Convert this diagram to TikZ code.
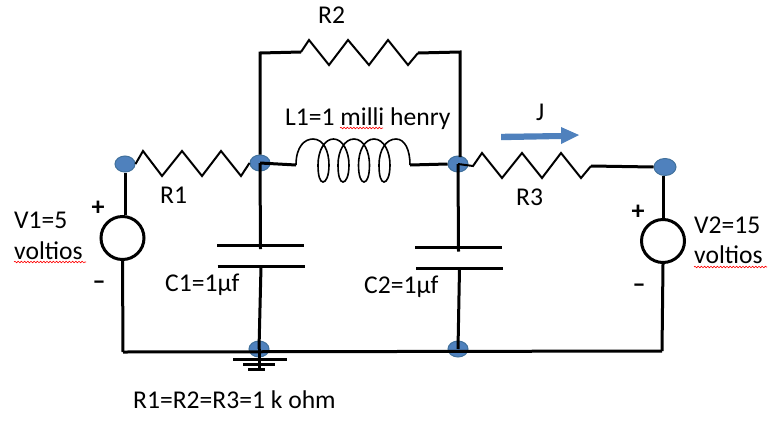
\documentclass[tikz,border=0pt]{standalone}
\usepackage{fontspec}
\setmainfont{Carlito}
\usetikzlibrary{shapes.geometric,decorations.pathmorphing}
\definecolor{dotblue}{HTML}{4F81BD}
\definecolor{dotedge}{HTML}{41719C}
\tikzset{
  wire/.style={draw=black,line width=3pt,line cap=butt},
  thinwire/.style={draw=black,line width=2pt,line join=miter},
  coil/.style={draw=black,line width=1.6pt},
  junction/.style={ellipse,fill=dotblue,draw=dotedge,line width=1pt,minimum width=20pt,minimum height=16pt,inner sep=0pt},
  source/.style={circle,draw=black,line width=3pt,fill=white,minimum size=43pt,inner sep=0pt},
  lbl/.style={anchor=base west,inner sep=0pt,font=\fontsize{25.6}{30}\selectfont},
  sign/.style={anchor=center,inner sep=0pt,font=\fontsize{26}{28}\selectfont\bfseries},
  squiggle/.style={draw=red,line width=0.6pt,decorate,decoration={snake,segment length=3.2pt,amplitude=0.8pt}}
}
\begin{document}
\begin{tikzpicture}[x=1pt,y=-1pt]
\useasboundingbox (0,0) rectangle (781,421);
\fill[white] (0,0) rectangle (781,421);
% junctions
\node[junction] (n1) at (125,164) {};
\node[junction] (n2) at (260,163) {};
\node[junction] (n3) at (458,164) {};
\node[junction,minimum width=22pt,minimum height=17pt] (n4) at (665,167) {};
\node[junction] (n5) at (259,349) {};
\node[junction] (n6) at (458,349) {};
% sources
\node[source] (v1) at (122.5,238) {};
\node[source] (v2) at (663,241) {};
% helper coordinates
\coordinate (r2l) at (260,53);
\coordinate (r2a) at (301,52);
\coordinate (r2b) at (418,53);
\coordinate (r2r) at (460,52);
\coordinate (c1a) at (260.5,245);
\coordinate (c1b) at (261,266.5);
\coordinate (c2a) at (458.5,247.5);
\coordinate (c2b) at (459.5,268.5);
\coordinate (lbot) at (123,352);
\coordinate (rbot) at (662,351);
\coordinate (la) at (296,165);
\coordinate (lb) at (410,165);
\coordinate (r3a) at (473,166);
\coordinate (r3b) at (591,166);
% source leads
\draw[wire] (n1.south) -- (n1.south |- v1.north);
\draw[wire] (v1.south) -- (lbot);
\draw[wire] (n4.south) ++(-2,0) -- (v2.north);
\draw[wire] (v2.south) -- (rbot);
% bottom rail
\draw[wire] (lbot) -- (rbot);
% R1
\draw[thinwire] (n1.east) -- (143,151) -- (162,176) -- (182,151) -- (202,176) -- (221,151) -- (241,176) -- (n2.west);
% R2
\draw[wire] (n2.north) -- (r2l) -- (r2a);
\draw[thinwire] (r2a) -- (309,40) -- (329,65) -- (348,40) -- (369,65) -- (388,40) -- (408,65) -- (r2b);
\draw[wire] (r2b) -- (r2r) -- (460,157);
% L1
\draw[wire] (n2.center) -- (la);
\draw[wire] (lb) -- (n3.west);
\draw[coil] (la) .. controls (296,146) and (305,139) .. (313,139)
  .. controls (324,139) and (329,152) .. (329,165)
  .. controls (329,176) and (326,182) .. (323,182)
  .. controls (320,182) and (318,176) .. (318,165)
  .. controls (318,150) and (325,139) .. (333.5,139)
  .. controls (343,139) and (349,152) .. (349,165)
  .. controls (349,176) and (346,182) .. (343,182)
  .. controls (340,182) and (338,176) .. (338,165)
  .. controls (338,150) and (345,139) .. (354,139)
  .. controls (364,139) and (369.5,152) .. (369.5,165)
  .. controls (369.5,176) and (367,182) .. (364,182)
  .. controls (361,182) and (358.5,176) .. (358.5,165)
  .. controls (358.5,150) and (365,139) .. (374,139)
  .. controls (384,139) and (390,152) .. (390,165)
  .. controls (390,176) and (387,182) .. (384,182)
  .. controls (381,182) and (379,176) .. (379,165)
  .. controls (379,150) and (386,139) .. (396,139)
  .. controls (405,139) and (410,150) .. (lb);
% R3
\draw[thinwire] (n3.center) -- (r3a) -- (482,153) -- (502,178) -- (522,153) -- (542,178) -- (561,153) -- (581,178) -- (r3b);
\draw[wire] (r3b) -- (n4.west);
% C1
\draw[wire] (n2.center) -- ([yshift=-4pt]c1a);
\draw[wire] ([xshift=-43.5pt]c1a) -- ([xshift=43.5pt]c1a);
\draw[wire] ([xshift=-43.5pt]c1b) -- ([xshift=43.5pt]c1b);
\draw[wire] (c1b) -- (n5.center);
% C2
\draw[wire] (n3.center) -- ([yshift=-4pt]c2a);
\draw[wire] ([xshift=-43.5pt]c2a) -- ([xshift=43.5pt]c2a);
\draw[wire] ([xshift=-43.5pt]c2b) -- ([xshift=43.5pt]c2b);
\draw[wire] (c2b) -- (n6.center);
% ground
\coordinate (g1) at (260,359);
\coordinate (g2) at (259,364);
\coordinate (g3) at (256.5,369);
\draw[wire] (n5.center) -- (259,369);
\draw[wire] ([xshift=-27pt]g1) -- ([xshift=27pt]g1);
\draw[wire] ([xshift=-16pt]g2) -- ([xshift=16pt]g2);
\draw[wire] ([xshift=-8.5pt]g3) -- ([xshift=8.5pt]g3);
% current arrow
\fill[dotblue] (501,133.8) -- (561,133) -- (561,127) -- (579,135) -- (561,144) -- (561,139) -- (501,140.2) -- cycle;
% labels
\node[lbl] (tr2) at (318,23) {R2};
\node[lbl] (tr1) at (160,203) {R1};
\node[lbl] (tr3) at (516,205) {R3};
\node[lbl] (tj) at (536,120) {J};
\node[lbl] (tl1) at (285,125) {L1=1 milli henry};
\node[lbl] (tv1a) at (14,228) {V1=5};
\node[lbl] (tv1b) at (14,259) {voltios};
\node[lbl] (tv2a) at (694,233) {V2=15};
\node[lbl] (tv2b) at (694,263) {voltios};
\node[lbl] (tc1) at (165,291) {C1=1µf};
\node[lbl] (tc2) at (364,293) {C2=1µf};
\node[lbl] (tall) at (133,408) {R1=R2=R3=1 k ohm};
\node[sign] (pv1) at (98,208) {+};
\node[sign] (mv1) at (99,285) {–};
\node[sign] (pv2) at (638,212) {+};
\node[sign] (mv2) at (639,288) {–};
% spell-check squiggles
\path[squiggle] (340,128) -- (383,128);
\path[squiggle] (14,262) -- (86,262);
\path[squiggle] (694,267) -- (767,267);
\end{tikzpicture}
\end{document}
